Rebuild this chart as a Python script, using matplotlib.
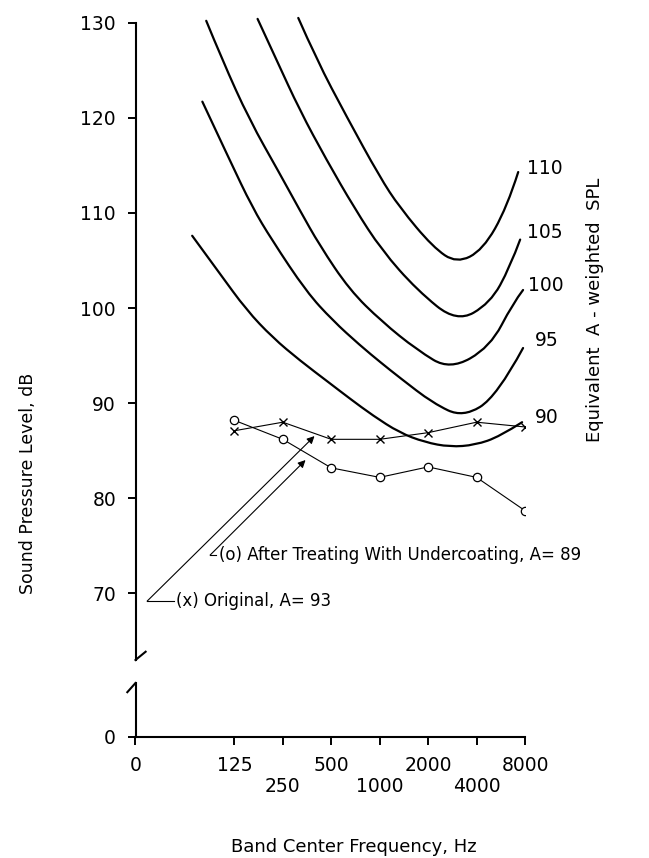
import matplotlib
matplotlib.use('Agg')
import matplotlib.pyplot as plt
from matplotlib.path import Path
from matplotlib.patches import PathPatch

plt.rcParams['font.family'] = 'DejaVu Sans'

# x is in octave bands: 125 Hz = 0 ... 8000 Hz = 6, "0" sits ~2 octaves left
band_labels = ['0', '125', '\n250', '500', '\n1000', '2000', '\n4000', '8000']
band_pos = [-2.04, 0, 1, 2, 3, 4, 5, 6]
meas_pos = [0, 1, 2, 3, 4, 5, 6]

original_db = [87.1, 88.0, 86.2, 86.2, 86.9, 88.0, 87.5]   # (x)
treated_db = [88.2, 86.2, 83.2, 82.2, 83.3, 82.2, 78.7]    # (o)

# equivalent A-weighted SPL contours
c110_x = [1.32, 1.70, 2.32, 3.00, 3.41, 4.10, 4.59, 5.13, 5.63, 5.86]
c110_y = [130.5, 126.1, 120.1, 113.8, 110.6, 106.4, 104.7, 106.1, 110.6, 114.3]
c105_x = [0.48, 0.87, 1.35, 1.90, 2.48, 3.04, 3.77, 4.59, 5.28, 5.69, 5.90]
c105_y = [130.4, 126.1, 120.8, 115.6, 110.5, 106.1, 101.9, 98.5, 100.5, 104.3, 107.2]
c100_x = [-0.58, -0.25, 0.31, 0.93, 1.35, 1.76, 2.38, 3.04, 3.77, 4.45, 5.28, 5.75, 5.96]
c100_y = [130.2, 126.1, 119.8, 114.2, 110.3, 106.6, 101.9, 98.6, 95.6, 93.5, 95.9, 100.5, 101.9]
c95_x = [-0.66, -0.10, 0.37, 0.77, 1.49, 2.03, 2.59, 3.04, 3.41, 4.10, 4.72, 5.42, 5.96]
c95_y = [121.7, 115.6, 110.6, 107.2, 101.7, 98.7, 96.1, 94.2, 92.7, 90.0, 88.5, 90.7, 95.8]
c90_x = [-0.87, -0.31, 0.25, 0.79, 1.35, 1.97, 2.38, 2.86, 3.41, 3.93, 4.45, 4.97, 5.48, 5.94]
c90_y = [107.6, 103.7, 99.8, 96.9, 94.5, 92.1, 90.5, 88.7, 86.9, 85.9, 85.4, 85.6, 86.5, 88.0]

curve_names = ['110', '105', '100', '95', '90']
curve_label_x = [6.04, 6.04, 6.06, 6.20, 6.20]
curve_label_y = [114.7, 107.9, 102.4, 96.6, 88.5]


def smooth_path(xs, ys):
    # quadratic bezier through midpoints so the contour has no kinks
    verts = [(xs[0], ys[0])]
    codes = [Path.MOVETO]
    n = len(xs)
    for i in range(1, n - 1):
        if i == n - 2:
            end = (xs[-1], ys[-1])
        else:
            end = ((xs[i] + xs[i + 1]) / 2, (ys[i] + ys[i + 1]) / 2)
        verts += [(xs[i], ys[i]), end]
        codes += [Path.CURVE3, Path.CURVE3]
    return Path(verts, codes)


fig = plt.figure(figsize=(6.49, 8.58), dpi=100)
L = 135.5 / 649
W = (525 - 135.5) / 649
ax = fig.add_axes([L, (858 - 660) / 858, W, (660 - 22.7) / 858])
ax2 = fig.add_axes([L, (858 - 737) / 858, W, 54 / 858])

ax.set_xlim(-2.04, 6)
ax.set_ylim(63, 130)
ax2.set_xlim(-2.04, 6)
ax2.set_ylim(0, 5.68)

for s in ['top', 'right', 'bottom']:
    ax.spines[s].set_visible(False)
for s in ['top', 'right']:
    ax2.spines[s].set_visible(False)
ax.spines['left'].set_linewidth(1.5)
ax2.spines['left'].set_linewidth(1.5)
ax2.spines['bottom'].set_linewidth(1.5)

ax.set_xticks([])
ax.set_yticks(range(70, 131, 10))
ax.tick_params(axis='y', length=6, width=1.4, pad=8, labelsize=13.5)

ax2.set_yticks([0])
ax2.set_xticks(band_pos)
ax2.set_xticklabels(band_labels)
for lab in ax2.get_xticklabels():
    lab.set_linespacing(1.1)
ax2.tick_params(axis='both', length=6, width=1.4, pad=8, labelsize=13.5)

# axis break hooks
ax.plot([0, 0.026], [0, 0.013], transform=ax.transAxes, color='k', lw=1.5, clip_on=False)
ax2.plot([0, -0.021], [1, 0.83], transform=ax2.transAxes, color='k', lw=1.5, clip_on=False)

cx = [c110_x, c105_x, c100_x, c95_x, c90_x]
cy = [c110_y, c105_y, c100_y, c95_y, c90_y]
for i in range(len(cx)):
    patch = PathPatch(smooth_path(cx[i], cy[i]), facecolor='none', edgecolor='k',
                      lw=1.6, clip_on=False, capstyle='round')
    ax.add_patch(patch)
    ax.text(curve_label_x[i], curve_label_y[i], curve_names[i], fontsize=13.5,
            ha='left', va='center')

ax.plot(meas_pos, original_db, color='k', lw=0.8, marker='x', ms=6, mew=1)
ax.plot(meas_pos, treated_db, color='k', lw=0.8, marker='o', ms=6,
        mfc='white', mew=0.9)

# leaders + labels
ax.plot([-1.80, -1.24], [69.19, 69.19], color='k', lw=0.8)
ax.annotate('', xy=(1.655, 86.54), xytext=(-1.80, 69.19),
            arrowprops=dict(arrowstyle='-|>', color='k', lw=0.8,
                            mutation_scale=11, shrinkA=0, shrinkB=0))
ax.text(-1.20, 69.2, '(x) Original, A= 93', fontsize=12, va='center', ha='left')

ax.plot([-0.50, -0.38], [74.03, 74.03], color='k', lw=0.8)
ax.annotate('', xy=(1.47, 84.02), xytext=(-0.50, 74.03),
            arrowprops=dict(arrowstyle='-|>', color='k', lw=0.8,
                            mutation_scale=11, shrinkA=0, shrinkB=0))
ax.text(-0.32, 74.0, '(o) After Treating With Undercoating, A= 89', fontsize=12,
        va='center', ha='left')

fig.text(595 / 649, 1 - 310 / 858, 'Equivalent  A - weighted  SPL', rotation=90,
         ha='center', va='center', fontsize=13)
fig.text(28 / 649, 1 - 483 / 858, 'Sound Pressure Level, dB', rotation=90,
         ha='center', va='center', fontsize=12.5)
fig.text(354 / 649, 1 - 847 / 858, 'Band Center Frequency, Hz',
         ha='center', va='center', fontsize=13)

fig.savefig('out.png', dpi=100)
